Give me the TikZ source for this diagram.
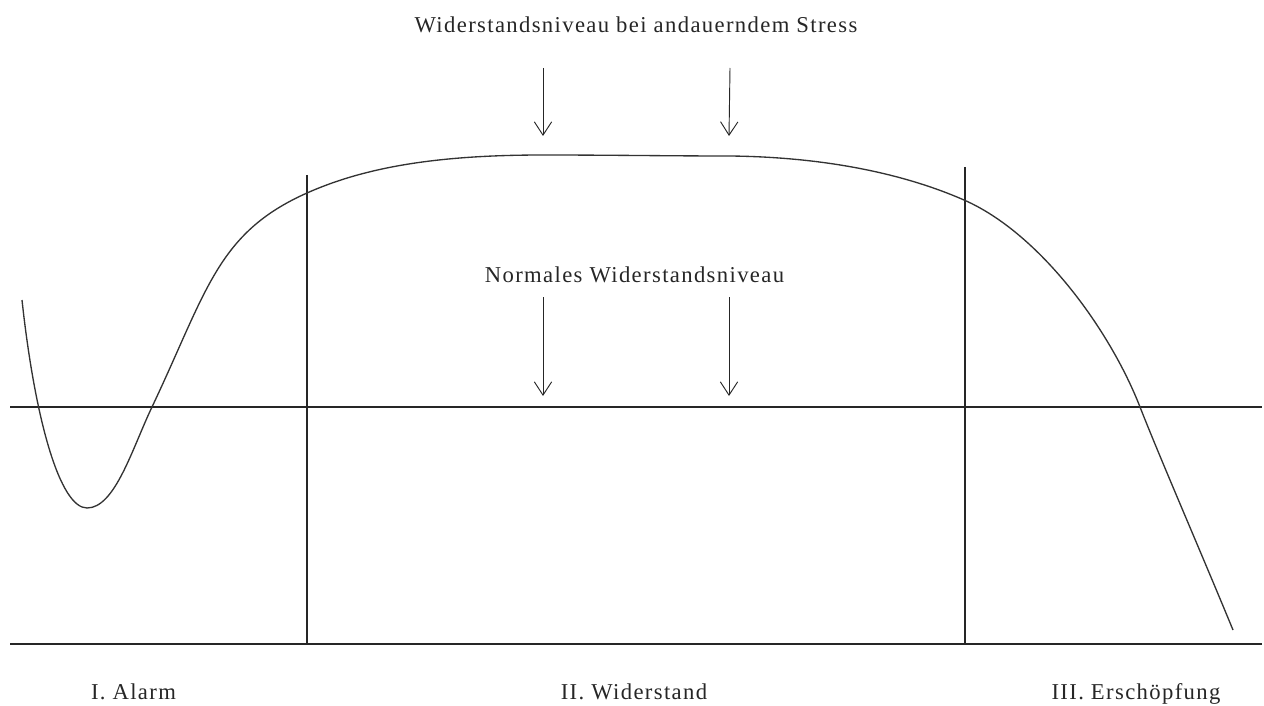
\documentclass[tikz,border=0pt]{standalone}
\usepackage{fontspec}
\setmainfont{Liberation Serif}[LetterSpace=6]
\usetikzlibrary{arrows.meta}
\begin{document}
\begin{tikzpicture}[x=0.75pt,y=-0.75pt,
  axisline/.style={line width=1.3pt,draw=black!85},
  divider/.style={line width=0.8pt,draw=black!85},
  curveline/.style={line width=1pt,draw=black!80},
  pointer/.style={line width=0.7pt,draw=black!85,-{Straight Barb[length=10pt,width=13pt,line width=0.7pt]}},
  label/.style={font=\fontsize{17pt}{20pt}\selectfont,text=black!85,inner sep=0pt,anchor=base}]
\useasboundingbox (0,0) rectangle (1264,706);
% horizontal lines
\coordinate (baseL) at (10,407);
\coordinate (baseR) at (1262,407);
\coordinate (botL) at (10,644);
\coordinate (botR) at (1262,644);
\draw[axisline] (baseL) -- (baseR);
\draw[axisline] (botL) -- (botR);
% vertical dividers
\coordinate (v1t) at (307,175);
\coordinate (v1b) at (307,644);
\coordinate (v2t) at (965,167);
\coordinate (v2b) at (965,644);
\draw[divider] (v1t) -- (v1b);
\draw[divider] (v2t) -- (v2b);
% curve
\draw[curveline] (22,300)
  .. controls (35,420) and (60,508) .. (87,508)
  .. controls (115,508) and (132,449) .. (152,407)
  .. controls (207,291) and (217,233) .. (307,193)
  .. controls (367,166.3) and (440,155) .. (543,155)
  .. controls (610,155) and (670,156) .. (730,156)
  .. controls (820,157) and (900,172) .. (964,200)
  .. controls (1040,233.25) and (1110,330) .. (1140,407)
  .. controls (1160,458) and (1200,550) .. (1233,630);
% texts
\node[label] (stress) at (636,33) {Widerstandsniveau bei andauerndem Stress};
\node[label] (normal) at (634.5,282) {Normales Widerstandsniveau};
\node[label] (alarm) at (133.5,699) {I. Alarm};
\node[label] (widerstand) at (634,699) {II. Widerstand};
\node[label] (erschoepfung) at (1136,699) {III. Erschöpfung};
% arrows
\coordinate (a1s) at (543,68);
\coordinate (a1e) at (543,136);
\coordinate (a2s) at (730,68);
\coordinate (a2e) at (729,136);
\coordinate (a3s) at (543,297);
\coordinate (a3e) at (543,396);
\coordinate (a4s) at (729,297);
\coordinate (a4e) at (729,396);
\draw[pointer] (a1s) -- (a1e);
\draw[pointer] (a2s) -- (a2e);
\draw[pointer] (a3s) -- (a3e);
\draw[pointer] (a4s) -- (a4e);
\end{tikzpicture}
\end{document}
